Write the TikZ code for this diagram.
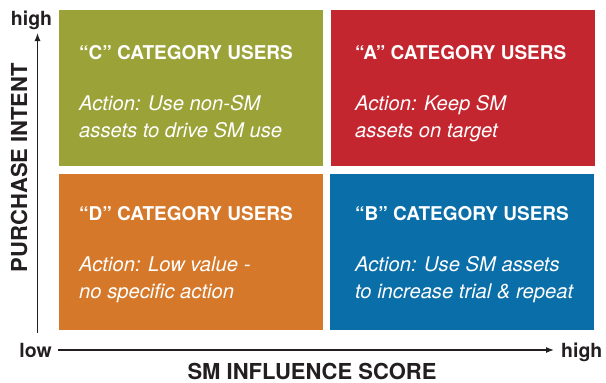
\documentclass[tikz,border=0pt]{standalone}
\usepackage{fontspec}
\setmainfont{TeX Gyre Heros}
\usetikzlibrary{arrows.meta}

\definecolor{quadC}{RGB}{155,163,56}
\definecolor{quadA}{RGB}{196,38,48}
\definecolor{quadD}{RGB}{214,120,42}
\definecolor{quadB}{RGB}{10,110,168}
\definecolor{axisgray}{RGB}{35,31,32}

\tikzset{
    quad/.style={rectangle, inner sep=0pt, minimum width=264pt, minimum height=156pt},
    cattitle/.style={anchor=base west, inner sep=0pt, text=white,
        font=\bfseries\fontsize{19}{23}\selectfont},
    % base anchor of a two-line node sits on its last line
    action/.style={anchor=base west, inner sep=0pt, text=white, align=left,
        font=\itshape\fontsize{20.2}{27}\selectfont},
    axislabel/.style={inner sep=0pt, text=axisgray,
        font=\bfseries\fontsize{19.5}{23}\selectfont},
    axistitle/.style={inner sep=0pt, text=axisgray,
        font=\bfseries\fontsize{22}{26}\selectfont},
    axisline/.style={draw=axisgray, line width=1.2pt, -{Latex[length=8pt,width=6pt]}}
}

\begin{document}
\begin{tikzpicture}[x=1pt, y=-1pt]
    \useasboundingbox (0,0) rectangle (606,383);

    % Quadrants
    \node[quad, fill=quadC] (C) at (191,88) {};
    \node[quad, fill=quadA] (A) at (463,88) {};
    \node[quad, fill=quadD] (D) at (191,251.5) {};
    \node[quad, fill=quadB] (B) at (462,251.5) {};

    % Quadrant texts
    \node[cattitle] (Ctitle) at (79,59) {“C” CATEGORY USERS};
    \node[action] (Cact) at (79,137) {Action: Use non-SM\\assets to drive SM use};

    \node[cattitle] (Atitle) at (355,59) {“A” CATEGORY USERS};
    \node[action] (Aact) at (355,137) {Action: Keep SM\\assets on target};

    \node[cattitle] (Dtitle) at (79,220) {“D” CATEGORY USERS};
    \node[action] (Dact) at (79,298) {Action: Low value -\\no specific action};

    \node[cattitle] (Btitle) at (355,220) {“B” CATEGORY USERS};
    \node[action] (Bact) at (355,298) {Action: Use SM assets\\to increase trial \& repeat};

    % Axes
    \coordinate (ybot) at (37.5,333);
    \coordinate (ytop) at (37.5,33);
    \coordinate (xleft) at (58,350);
    \coordinate (xright) at (554,350);
    \draw[axisline] (ybot) -- (ytop);
    \draw[axisline] (xleft) -- (xright);

    % Axis labels
    \node[axislabel, anchor=base] (yhigh) at (31.5,25) {high};
    \node[axislabel, anchor=base east] (xlow) at (52,357) {low};
    \node[axislabel, anchor=base west] (xhigh) at (561,357) {high};
    \node[axistitle, anchor=base] (xtitle) at (312,379) {SM INFLUENCE SCORE};
    \node[axistitle, rotate=90] (ytitle) at (19,167.5) {PURCHASE INTENT};
\end{tikzpicture}
\end{document}
